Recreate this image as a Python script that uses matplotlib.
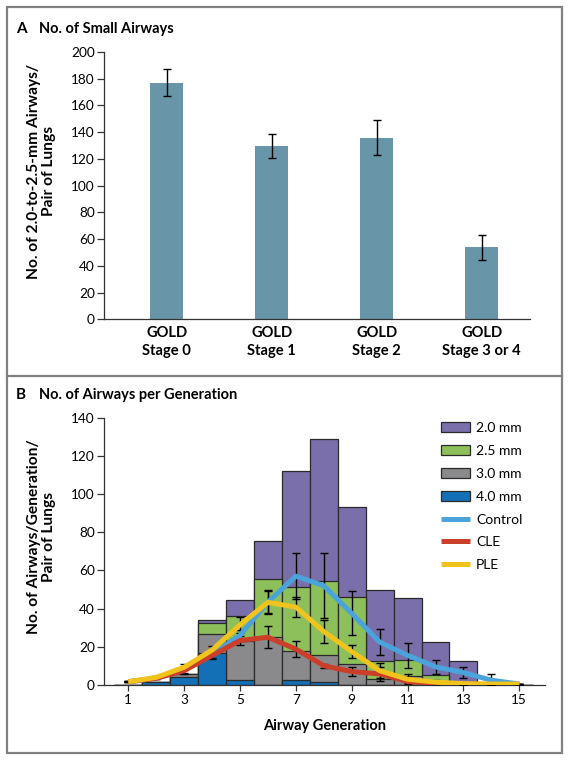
import matplotlib
matplotlib.use("Agg")
import matplotlib.pyplot as plt
import matplotlib.patches as mpatches
from matplotlib.legend_handler import HandlerPatch
from matplotlib.lines import Line2D

plt.rcParams['font.family'] = ['Lato', 'DejaVu Sans']

# panel A data
stages = ["GOLD\nStage 0", "GOLD\nStage 1", "GOLD\nStage 2", "GOLD\nStage 3 or 4"]
small_airways = [177, 129.5, 136, 54]
small_airways_err = [10.2, 9, 13, 9.3]

# panel B data
generations = list(range(1, 16))
d20 = [0, 1.8, 6, 34, 44.5, 75.3, 112, 128.6, 93.4, 50, 45.6, 22.4, 12.8, 0, 0]
d25 = [0, 1.8, 6, 32.4, 36.3, 55.5, 51.3, 54.5, 46, 12.6, 13.2, 5.3, 1.2, 0, 0]
d30 = [0, 1.8, 5.6, 26.5, 23, 25.4, 17.6, 15.8, 11.1, 3, 4.5, 1.7, 0.5, 0, 0]
d40 = [0, 1.4, 4, 17, 2.5, 0, 2.4, 1.8, 0, 0, 0, 0, 0, 0, 0]
control = [1.7, 3.5, 8, 16, 26, 43.5, 57, 52, 37.5, 22.5, 15.5, 9.5, 6.5, 2.5, 0.5]
cle = [1.7, 3.5, 7.5, 15.5, 23.3, 25, 18.8, 10.1, 7, 5.8, 1.8, 0.8, 0.3, 0.3, 0.3]
ple = [1.7, 4, 9.3, 18.3, 31.5, 43.3, 40.8, 28, 17.5, 7.5, 3, 1.5, 0.7, 0.5, 0.5]
control_err = [0.3, 0.5, 1.5, 2, 3, 6, 12, 17, 11.5, 7, 6.5, 3.6, 2.8, 3.5, 0.2]
cle_err = [0.3, 0.5, 1.5, 2, 2.5, 5.8, 4, 1, 2.3, 3.5, 1, 0.5, 0.3, 0.3, 0.2]
ple_err = [0.3, 0.5, 1.5, 2, 4.2, 6, 5.4, 5.8, 3.5, 4, 2.5, 1, 0.5, 0.3, 0.2]

W, H = 569, 761
fig = plt.figure(figsize=(W / 100, H / 100), dpi=100)

# frame and divider
fig.patches.append(mpatches.Rectangle((7 / W, 1 - 753 / H), 555 / W, 746 / H,
                                      transform=fig.transFigure, fill=False,
                                      edgecolor='#808080', lw=1.6))
fig.lines.append(Line2D([7 / W, 562 / W], [1 - 376 / H, 1 - 376 / H],
                        transform=fig.transFigure, color='#808080', lw=1.6))

fig.text(16 / W, 1 - 29 / H, "A", fontsize=11, fontweight='bold', va='center')
fig.text(39 / W, 1 - 29 / H, "No. of Small Airways", fontsize=10.5, fontweight='bold', va='center')
fig.text(16 / W, 1 - 395 / H, "B", fontsize=11, fontweight='bold', va='center')
fig.text(39 / W, 1 - 395 / H, "No. of Airways per Generation", fontsize=10.5, fontweight='bold', va='center')


def style_axes(ax):
    for s in ['top', 'right']:
        ax.spines[s].set_visible(False)
    for s in ['left', 'bottom']:
        ax.spines[s].set_linewidth(0.9)
        ax.spines[s].set_color('#333333')
    ax.tick_params(axis='y', length=5, width=0.9, labelsize=9.8, pad=1.5, color='#333333')


# ---- panel A ----
axA = fig.add_axes([104 / W, 1 - 319.3 / H, 426 / W, 267.3 / H])
xa = list(range(len(stages)))
axA.bar(xa, small_airways, width=0.317, color='#6895a8', zorder=2)
axA.errorbar(xa, small_airways, yerr=small_airways_err, fmt='none', ecolor='black',
             elinewidth=1, capsize=2.8, capthick=1, zorder=3)
axA.set_xlim(-0.597, 3.46)
axA.set_ylim(0, 200)
axA.set_yticks(range(0, 201, 20))
axA.set_xticks(xa)
axA.set_xticklabels(stages, fontsize=10.6, fontweight='bold', linespacing=1.3)
axA.tick_params(axis='x', length=0, pad=5)
style_axes(axA)
axA.set_ylabel("No. of 2.0-to-2.5-mm Airways/\nPair of Lungs", fontsize=11.2, fontweight='bold',
               linespacing=1.1)
axA.yaxis.set_label_coords(-0.113, 0.553)

# ---- panel B ----
axB = fig.add_axes([104 / W, 1 - 685 / H, 441 / W, 267.3 / H])
bar_kw = dict(width=1.0, edgecolor='#2a2a2a', linewidth=0.9, zorder=2)
axB.bar(generations, d20, color='#7b6fab', label='2.0 mm', **bar_kw)
axB.bar(generations, d25, color='#8dbf5a', label='2.5 mm', **bar_kw)
axB.bar(generations, d30, color='#8a8a8c', label='3.0 mm', **bar_kw)
axB.bar(generations, d40, color='#1370b6', label='4.0 mm', **bar_kw)

for vals, errs in [(control, control_err), (cle, cle_err), (ple, ple_err)]:
    axB.errorbar(generations, vals, yerr=errs, fmt='none', ecolor='black',
                 elinewidth=1, capsize=3, capthick=1, zorder=3)

axB.plot(generations, control, color='#4ba3dc', lw=3.6, label='Control', zorder=4,
         solid_capstyle='butt', solid_joinstyle='round')
axB.plot(generations, cle, color='#cb3f2a', lw=3.6, label='CLE', zorder=5,
         solid_capstyle='butt', solid_joinstyle='round')
axB.plot(generations, ple, color='#f0c31d', lw=3.6, label='PLE', zorder=6,
         solid_capstyle='butt', solid_joinstyle='round')

axB.set_xlim(0.13, 15.92)
axB.set_ylim(0, 140)
axB.set_yticks(range(0, 141, 20))
axB.set_xticks(range(1, 16, 2))
axB.tick_params(axis='x', length=4.5, width=0.9, labelsize=9.8, pad=2, color='#333333')
style_axes(axB)
axB.set_ylabel("No. of Airways/Generation/\nPair of Lungs", fontsize=11.2, fontweight='bold',
               linespacing=1.1)
axB.yaxis.set_label_coords(-0.109, 0.555)
axB.set_xlabel("Airway Generation", fontsize=10.5, fontweight='bold', labelpad=9)


def square_patch(legend, orig_handle, xdescent, ydescent, width, height, fontsize):
    s = height * 1.4
    return mpatches.Rectangle((width - s - xdescent, -ydescent + (height - s) / 2), s, s)


handles, labels = axB.get_legend_handles_labels()
order = [3, 4, 5, 6, 0, 1, 2]
leg = axB.legend([handles[i] for i in order], [labels[i] for i in order],
                 loc='upper right', bbox_to_anchor=(0.977, 1.03), frameon=False,
                 fontsize=10, labelspacing=0.78, handlelength=2.1, handletextpad=0.4,
                 handler_map={mpatches.Rectangle: HandlerPatch(patch_func=square_patch)})

fig.savefig("out.png", dpi=100)
